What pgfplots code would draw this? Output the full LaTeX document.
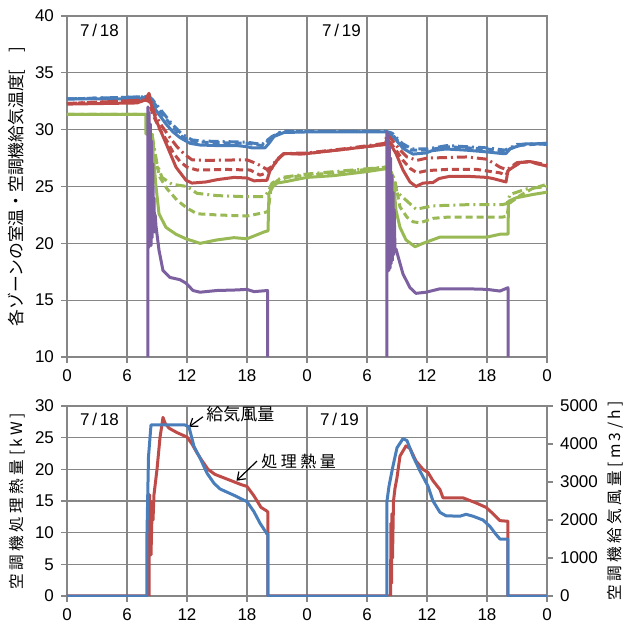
\documentclass[border=0pt]{standalone}
\usepackage{pgfplots}
\pgfplotsset{compat=1.18}
\usepackage{fontspec}
\setmainfont{Liberation Sans}
\newfontfamily\jp{Noto Sans CJK JP}
\newfontfamily\jpsp[LetterSpace=22]{Noto Sans CJK JP}
\usetikzlibrary{arrows.meta}
\definecolor{cb}{RGB}{74,126,187}
\definecolor{cr}{RGB}{190,75,72}
\definecolor{cg}{RGB}{152,185,84}
\definecolor{cp}{RGB}{125,96,160}
\definecolor{gridc}{RGB}{134,134,134}
\pgfplotsset{
  base/.style={scale only axis, width=240pt, xmin=0, xmax=48,
    xtick={0,6,...,48}, xticklabels={0,6,12,18,0,6,12,18,0},
    major grid style={gridc, line width=0.6pt},
    axis line style={gridc, line width=0.6pt},
    tick style={gridc, line width=0.6pt},
    tick align=outside, major tick length=3pt,
    ticklabel style={font=\fontsize{8.5}{10}\selectfont, text=black},
    /pgf/number format/assume math mode=true,
    /pgf/number format/1000 sep={},
    xtick pos=bottom},
  ln/.style={line width=1.5pt, line join=round},
  dsh/.style={ln, dash pattern=on 3.5pt off 2pt},
  dd/.style={ln, dash pattern=on 5pt off 2pt on 1pt off 2pt},
}
\begin{document}
\begin{tikzpicture}
\path[use as bounding box] (0,0) rectangle (312pt,314.5pt);
% ---------------- top ----------------
\begin{axis}[base, height=170.5pt, at={(33.5pt,136pt)}, anchor=south west,
  ymin=10, ymax=40, ytick={10,15,...,40}, grid=major, ytick pos=left,
  ylabel={\jp\fontsize{8.4}{10}\selectfont 各ゾーンの室温・空調機給気温度[　]},
  ylabel style={yshift=-2pt}]
% blue
\addplot[cb, dsh] coordinates {(0,32.7)(8,32.9)(8.5,32.6)(9.5,31.4)(10.5,30.3)(11.5,29.4)(12.5,29.0)(13.5,28.9)(18,28.8)(19.5,28.6)(20.5,29.3)(21.5,29.85)(31.9,29.85)(32.5,29.6)(33.5,28.6)(34.5,28.2)(36,28.2)(38,28.5)(42,28.3)(43.8,28.1)(45,28.6)(48,28.8)};
\addplot[cb, dd] coordinates {(0,32.7)(8,32.9)(8.5,32.7)(9.5,31.6)(10.5,30.5)(11.5,29.6)(12.5,29.1)(13.5,29.0)(18,28.9)(19.5,28.7)(20.5,29.4)(21.5,29.85)(31.9,29.85)(32.5,29.7)(33.5,28.8)(34.5,28.3)(36,28.3)(38,28.6)(42,28.4)(43.8,28.2)(45,28.7)(48,28.8)};
\addplot[cb, ln] coordinates {(0,32.7)(7,32.7)(7.8,32.85)(8.2,33.0)(8.5,32.5)(8.9,31.7)(9.9,30.5)(10.6,29.8)(11.3,29.3)(12.3,28.8)(13.3,28.65)(15,28.6)(17,28.6)(18,28.5)(18.5,28.4)(19.8,28.4)(20.2,28.8)(20.7,29.4)(21.7,29.75)(24,29.8)(28,29.8)(31.9,29.8)(32.3,29.6)(32.9,29.1)(33.6,28.35)(34.6,27.85)(35.9,27.95)(36.5,28.15)(37.9,28.3)(39.9,28.2)(41.9,28.05)(43.5,27.9)(43.9,27.9)(44.3,28.3)(44.9,28.5)(45.9,28.75)(47,28.75)(48,28.7)};
% red
\addplot[cr, dd] coordinates {(0,32.3)(7.8,32.6)(8.2,33.2)(8.7,31.5)(9.5,30.3)(10.3,29.3)(11,28.5)(11.8,27.8)(12.5,27.35)(14,27.3)(18,27.35)(19,27.0)(20,26.5)(20.4,26.7)(21,27.4)(21.7,27.9)(24,27.95)(28,28.35)(31.8,28.8)(32,29.6)(32.5,29.1)(33.2,28.3)(34,27.6)(35,27.3)(36,27.5)(40,27.6)(42,27.4)(43.3,26.7)(43.9,26.5)(44.2,26.6)(45,27.1)(46.3,27.2)(48,26.9)};
\addplot[cr, dsh] coordinates {(0,32.3)(7.8,32.6)(8.2,32.5)(8.6,31.3)(9.3,30.0)(10,29.0)(10.6,28.0)(11.3,27.2)(12,26.7)(13,26.45)(16,26.5)(18.3,26.45)(19.3,26.0)(20,26.2)(20.5,26.6)(21,27.3)(21.7,27.9)(24,27.9)(28,28.3)(31.8,28.7)(32.3,28.9)(32.9,28.2)(33.6,27.3)(34.3,26.6)(35,26.2)(36,26.4)(38,26.5)(41,26.5)(42.5,26.3)(43.3,26.2)(43.9,26.0)(44.2,26.5)(45.3,27.1)(46.3,27.2)(48,26.8)};
\addplot[cr, ln] coordinates {(0,32.25)(7,32.35)(7.8,32.6)(8.2,32.8)(8.5,32.0)(8.9,30.85)(9.9,28.8)(10.9,26.7)(11.9,25.55)(12.5,25.3)(13.9,25.4)(15,25.6)(16.7,25.8)(18,25.75)(18.7,25.5)(20,25.55)(20.3,26.4)(21,27.3)(21.7,27.9)(23.4,27.85)(24,27.9)(28,28.3)(31.8,28.7)(32.0,29.2)(32.3,28.8)(32.9,27.9)(33.6,26.45)(34.3,25.4)(34.9,25.0)(35.6,25.3)(36.6,25.35)(37.2,25.7)(38.3,25.9)(40,25.9)(42,25.8)(42.6,25.7)(43.9,25.4)(44.1,26.4)(45.3,27.1)(46.3,27.2)(47,27.0)(48,26.8)};
% green
\addplot[cg, dd] coordinates {(0,31.35)(7.9,31.35)(8.5,29.6)(9,27)(9.5,25.8)(10.5,25.2)(12,25.0)(13,24.4)(15,24.2)(18,24.1)(19.7,24.1)(20.1,24.5)(20.5,25.3)(21.5,25.8)(24,26.1)(31.8,26.7)(32.5,26.2)(33,24.5)(33.9,23.8)(34.9,23.0)(36.6,23.3)(40,23.4)(43.5,23.4)(44.0,23.5)(44.3,24.3)(46,24.8)(48,25.0)};
\addplot[cg, dsh] coordinates {(0,31.35)(7.9,31.35)(8.5,29.6)(8.8,27.5)(9.3,25.8)(10,24.8)(11,23.8)(12,23.1)(13,22.6)(15,22.5)(18,22.4)(19.7,22.7)(20.1,22.8)(20.4,24.8)(21,25.5)(22,25.8)(24,26.0)(28,26.3)(31.8,26.7)(32.3,26.5)(32.8,25.5)(33.3,23.2)(34.0,22.3)(34.6,21.9)(35.3,21.8)(36.6,22.2)(38,22.3)(43.5,22.3)(44.0,22.4)(44.2,23.5)(45.3,24.2)(46.5,24.8)(48,25.2)};
\addplot[cg, ln] coordinates {(0,31.35)(7.9,31.35)(7.9,29.6)(8.5,29.6)(8.6,28)(8.9,25.0)(9.2,22.6)(9.9,21.4)(10.9,20.8)(11.9,20.4)(13.3,20.0)(15,20.3)(16.7,20.5)(18,20.4)(19.7,21.0)(20.1,21.1)(20.2,24.4)(20.6,25.0)(21,25.3)(22,25.45)(23.4,25.7)(24,25.8)(26.6,25.95)(29.9,26.3)(31.8,26.55)(32.0,26.6)(32.4,26.2)(32.7,24.9)(32.9,22.9)(33.3,21.4)(33.9,20.3)(34.8,19.7)(35.6,20.0)(37.3,20.55)(42,20.55)(43.3,20.8)(44.1,20.8)(44.15,23.7)(44.9,24.0)(46.6,24.3)(48,24.5)};
% purple
\addplot[cp, ln] coordinates {(8.1,0)(8.1,32.0)(8.16,19.6)(8.22,31.5)(8.28,20.0)(8.34,30.5)(8.4,19.8)(8.46,29.0)(8.52,20.5)(8.58,27)(8.64,21.0)(8.7,24)(8.76,21.0)(8.82,22.5)(8.9,21.5)(9.2,19.4)(9.6,17.6)(10.3,17.0)(11.3,16.8)(11.9,16.5)(12.6,15.85)(13.3,15.7)(15,15.85)(17,15.9)(18,15.95)(18.7,15.75)(20.05,15.85)(20.1,0)};
\addplot[cp, ln] coordinates {(32.0,0)(32.0,29.8)(32.06,18.0)(32.12,29.5)(32.18,17.6)(32.24,28.5)(32.3,17.8)(32.36,27.5)(32.42,18.2)(32.48,26)(32.54,18.5)(32.6,24.5)(32.66,19.0)(32.72,23)(32.8,19.3)(32.9,19.5)(33.6,17.3)(34.3,16.1)(34.9,15.6)(35.9,15.7)(37.3,16.0)(40,16.0)(42,15.95)(43.3,15.8)(44.1,16.1)(44.15,0)};
\node[anchor=west, font=\fontsize{8.5}{10}\selectfont] at (axis cs:0.6,38.7) {7\,/\,18};
\node[anchor=west, font=\fontsize{8.5}{10}\selectfont] at (axis cs:24.8,38.7) {7\,/\,19};
\end{axis}
% ---------------- bottom, left axis ----------------
\begin{axis}[base, height=95pt, at={(33.5pt,16.5pt)}, anchor=south west,
  ymin=0, ymax=30, ytick={0,5,...,30}, grid=major, ytick pos=left,
  ylabel={\jpsp\fontsize{7.8}{10}\selectfont 空調機処理熱量[kW]},
  ylabel style={yshift=-2pt}]
\addplot[cr, ln] coordinates {(0,0)(8.2,0)(8.25,16)(8.3,7)(8.35,15)(8.4,6.5)(8.5,13)(8.6,12)(8.7,16)(9.0,20)(9.3,25)(9.6,28.2)(9.8,27.3)(10.2,26.5)(11,25.8)(12,25.1)(12.5,24)(13,22.6)(13.4,21.6)(14.1,20.0)(14.8,19.2)(16.1,18.4)(17.4,17.6)(18.0,17.3)(18.7,15.8)(19.4,14.0)(20.0,13.4)(20.1,13.2)(20.1,0)(32.35,0)(32.4,11.5)(32.45,2)(32.5,13)(32.55,6)(32.65,15)(32.8,17)(33.0,18.7)(33.3,22.1)(33.9,23.7)(34.3,23.3)(34.9,21.3)(35.6,20.0)(36.1,19.5)(36.6,18.2)(37.3,16.8)(37.6,15.5)(39.6,15.5)(40.9,14.7)(41.9,14.0)(42.6,13.0)(43.3,11.9)(44.1,11.8)(44.1,0)(48,0)};
\draw[-{Straight Barb[length=3.5pt,width=5pt]}, line width=0.6pt] (axis cs:13.6,28.3) -- (axis cs:12.2,26.7);
\draw[-{Straight Barb[length=3.5pt,width=5pt]}, line width=0.6pt] (axis cs:19.0,21.3) -- (axis cs:16.95,18.2);
\node[anchor=west, font=\jp\fontsize{8.5}{10}\selectfont, inner sep=1pt] at (axis cs:13.7,28.7) {給気風量};
\node[anchor=west, font=\jpsp\fontsize{8}{10}\selectfont, inner sep=1pt] at (axis cs:19.2,21.3) {処理熱量};
\node[anchor=west, font=\fontsize{8.5}{10}\selectfont] at (axis cs:0.6,27.9) {7\,/\,18};
\node[anchor=west, font=\fontsize{8.5}{10}\selectfont] at (axis cs:24.6,27.9) {7\,/\,19};
\end{axis}
% ---------------- bottom, right axis ----------------
\begin{axis}[base, height=95pt, at={(33.5pt,16.5pt)}, anchor=south west,
  axis x line=none, axis y line*=right,
  ymin=0, ymax=5000, ytick={0,1000,...,5000}, scaled y ticks=false,
  ylabel={\jpsp\fontsize{7.8}{10}\selectfont 空調機給気風量[m3/h]},
  ylabel style={yshift=2pt}]
\addplot[cb, ln] coordinates {(0,0)(8.0,0)(8.0,1667)(8.15,3667)(8.4,4500)(11.8,4500)(12.2,4450)(12.7,3933)(13.3,3633)(14.0,3233)(14.7,2967)(15.3,2817)(16.7,2650)(18,2483)(18.7,2217)(19.3,1917)(20,1633)(20.1,1633)(20.1,0)(32.0,0)(32.0,2500)(32.2,2890)(32.6,3420)(33.0,3900)(33.6,4140)(34.0,4090)(34.6,3680)(35.3,3290)(36.1,2890)(36.6,2500)(37.3,2200)(37.9,2110)(39.3,2100)(39.9,2150)(40.6,2100)(41.6,2000)(42.3,1830)(42.9,1620)(43.3,1500)(44.1,1500)(44.1,0)(48,0)};
\end{axis}
\end{tikzpicture}
\end{document}
